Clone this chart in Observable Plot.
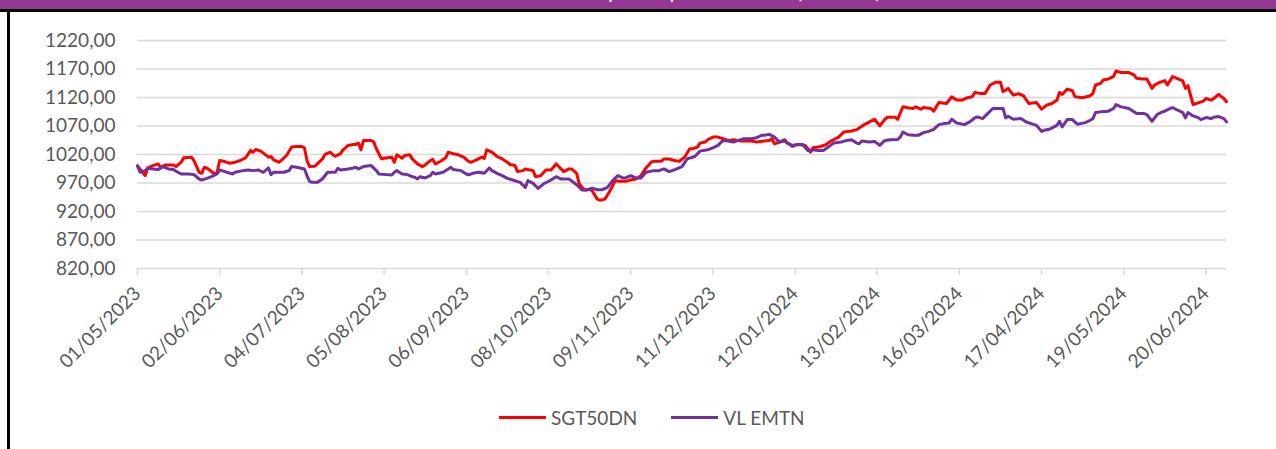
<!DOCTYPE html>
<html>
<head>
<meta charset="utf-8">
<script src="https://cdn.jsdelivr.net/npm/d3@7"></script>
<script src="https://cdn.jsdelivr.net/npm/@observablehq/plot@0.6"></script>
<style>
  html, body { margin: 0; padding: 0; background: #fff; }
  #page { position: relative; width: 1276px; height: 449px; overflow: hidden; background: #fff; font-family: Lato, "Open Sans", sans-serif; }
  #titlebar { position: absolute; left: 0; top: 0; width: 1276px; height: 9px; background: #953795; overflow: hidden; }
  #titlebar span { position: absolute; right: 396px; top: -17px; color: #fff; font: bold 16px Lato, sans-serif; white-space: nowrap; line-height: 20px; }
  #topline { position: absolute; left: 0; top: 9px; width: 1276px; height: 3px; background: #000; }
  #leftline { position: absolute; left: 7px; top: 9px; width: 3px; height: 440px; background: #000; }
  #chart { position: absolute; left: 0; top: 0; }
  #legend { position: absolute; left: 499px; top: 405px; height: 24px; display: flex; align-items: center; font-size: 19px; color: #595959; font-family: Lato, sans-serif; }
  .sw { display: inline-block; width: 47px; height: 3px; margin-right: 5px; }
  .item { display: flex; align-items: center; margin-right: 34px; }
</style>
</head>
<body>
<div id="page">
  <div id="chart"></div>
  <div id="titlebar"><span>Evolution comparée depuis le lancement (base 1000)</span></div>
  <div id="topline"></div>
  <div id="leftline"></div>
  <div id="legend"></div>
</div>
<script>
const seriesNames = ["SGT50DN", "VL EMTN"];
const seriesColors = ["#FF0000", "#7030A0"];

const sgtDates = ["2023-05-01","2023-05-03","2023-05-04","2023-05-05","2023-05-07","2023-05-09","2023-05-10","2023-05-12","2023-05-15","2023-05-16","2023-05-18","2023-05-19","2023-05-22","2023-05-23","2023-05-25","2023-05-26","2023-05-27","2023-05-28","2023-05-29","2023-05-31","2023-06-01","2023-06-02","2023-06-04","2023-06-06","2023-06-08","2023-06-10","2023-06-12","2023-06-13","2023-06-14","2023-06-15","2023-06-16","2023-06-18","2023-06-19","2023-06-21","2023-06-22","2023-06-23","2023-06-25","2023-06-26","2023-06-28","2023-06-30","2023-07-02","2023-07-04","2023-07-05","2023-07-06","2023-07-07","2023-07-09","2023-07-10","2023-07-12","2023-07-13","2023-07-15","2023-07-16","2023-07-17","2023-07-19","2023-07-20","2023-07-22","2023-07-24","2023-07-25","2023-07-26","2023-07-27","2023-07-28","2023-07-31","2023-08-01","2023-08-02","2023-08-04","2023-08-05","2023-08-08","2023-08-09","2023-08-10","2023-08-12","2023-08-13","2023-08-15","2023-08-16","2023-08-18","2023-08-20","2023-08-21","2023-08-23","2023-08-24","2023-08-25","2023-08-27","2023-08-29","2023-08-30","2023-09-01","2023-09-03","2023-09-05","2023-09-07","2023-09-08","2023-09-10","2023-09-12","2023-09-13","2023-09-14","2023-09-16","2023-09-18","2023-09-20","2023-09-22","2023-09-23","2023-09-25","2023-09-26","2023-09-28","2023-09-29","2023-10-02","2023-10-03","2023-10-05","2023-10-07","2023-10-09","2023-10-11","2023-10-12","2023-10-14","2023-10-16","2023-10-17","2023-10-19","2023-10-20","2023-10-22","2023-10-24","2023-10-25","2023-10-27","2023-10-28","2023-10-30","2023-11-01","2023-11-03","2023-11-05","2023-11-07","2023-11-09","2023-11-11","2023-11-13","2023-11-15","2023-11-17","2023-11-18","2023-11-21","2023-11-22","2023-11-24","2023-11-26","2023-11-28","2023-11-30","2023-12-02","2023-12-03","2023-12-05","2023-12-06","2023-12-08","2023-12-09","2023-12-11","2023-12-13","2023-12-15","2023-12-17","2023-12-19","2023-12-22","2023-12-26","2023-12-28","2023-12-31","2024-01-02","2024-01-03","2024-01-04","2024-01-06","2024-01-08","2024-01-09","2024-01-11","2024-01-13","2024-01-16","2024-01-18","2024-01-19","2024-01-21","2024-01-24","2024-01-26","2024-01-27","2024-01-29","2024-01-31","2024-02-03","2024-02-05","2024-02-07","2024-02-08","2024-02-10","2024-02-12","2024-02-14","2024-02-16","2024-02-17","2024-02-20","2024-02-21","2024-02-23","2024-02-25","2024-02-27","2024-02-28","2024-03-01","2024-03-02","2024-03-05","2024-03-06","2024-03-08","2024-03-11","2024-03-13","2024-03-15","2024-03-17","2024-03-19","2024-03-21","2024-03-22","2024-03-24","2024-03-26","2024-03-28","2024-03-30","2024-04-01","2024-04-02","2024-04-04","2024-04-06","2024-04-08","2024-04-10","2024-04-12","2024-04-15","2024-04-17","2024-04-19","2024-04-21","2024-04-23","2024-04-24","2024-04-25","2024-04-27","2024-04-29","2024-04-30","2024-05-03","2024-05-06","2024-05-07","2024-05-08","2024-05-10","2024-05-11","2024-05-13","2024-05-15","2024-05-16","2024-05-18","2024-05-21","2024-05-23","2024-05-24","2024-05-26","2024-05-28","2024-05-30","2024-05-31","2024-06-02","2024-06-04","2024-06-05","2024-06-07","2024-06-08","2024-06-11","2024-06-12","2024-06-13","2024-06-15","2024-06-17","2024-06-19","2024-06-20","2024-06-22","2024-06-23","2024-06-25","2024-06-26","2024-06-27","2024-06-28"];
const sgtValues = [1000.0,988.8,982.9,996.4,1000.6,1003.5,997.6,1001.7,1001.7,998.8,1006.5,1014.1,1015.3,1009.4,988.8,987.0,997.6,996.4,992.9,985.8,988.8,1009.4,1007.6,1004.7,1006.5,1009.4,1014.1,1020.0,1027.1,1024.1,1028.8,1025.9,1022.4,1015.3,1016.5,1010.6,1006.5,1009.4,1018.2,1033.0,1034.1,1034.1,1031.8,1009.4,998.8,999.4,1003.5,1012.3,1020.0,1024.1,1020.0,1017.1,1021.2,1028.2,1035.9,1037.7,1037.7,1040.0,1028.2,1044.7,1044.7,1041.8,1030.0,1012.3,1013.5,1015.3,1006.5,1019.4,1013.5,1018.2,1019.4,1012.3,1003.5,998.8,1001.7,1009.4,1011.2,1003.5,1008.2,1014.1,1024.1,1021.2,1019.4,1015.3,1007.6,1006.5,1010.6,1015.3,1012.9,1028.2,1024.1,1016.5,1012.3,1006.5,1002.3,1000.6,990.0,991.7,994.7,991.7,981.1,982.9,992.9,992.9,1003.5,998.8,990.0,994.7,994.7,987.0,968.2,957.6,959.3,956.4,941.7,939.9,941.7,956.4,974.1,972.9,972.9,975.2,977.0,982.9,996.4,1006.5,1008.2,1008.2,1012.3,1012.3,1009.4,1008.2,1015.3,1030.0,1030.0,1033.0,1040.0,1041.8,1045.9,1050.6,1050.6,1047.7,1044.7,1045.9,1043.6,1043.6,1041.8,1043.6,1044.7,1047.7,1038.8,1041.8,1045.9,1040.0,1035.9,1037.7,1035.9,1024.1,1031.8,1033.0,1037.1,1043.6,1045.9,1050.6,1059.5,1061.2,1063.6,1069.5,1072.4,1077.1,1081.8,1070.1,1081.8,1085.4,1085.4,1081.8,1103.6,1101.9,1100.7,1103.6,1099.5,1102.4,1100.7,1096.0,1111.3,1109.5,1121.3,1115.4,1115.4,1119.5,1121.3,1128.9,1127.2,1127.2,1141.9,1146.6,1146.6,1130.1,1136.0,1124.2,1126.6,1123.1,1109.5,1111.3,1099.5,1106.6,1109.5,1115.4,1128.9,1125.4,1134.8,1131.9,1121.3,1119.5,1123.1,1127.2,1141.9,1144.8,1150.7,1152.5,1156.6,1166.6,1163.7,1163.7,1159.6,1153.7,1152.5,1152.5,1136.0,1141.9,1146.6,1149.6,1141.9,1156.6,1154.9,1149.0,1136.0,1140.7,1107.7,1110.7,1113.6,1118.3,1115.4,1118.3,1125.4,1121.3,1118.3,1112.5];

const vlDates = ["2023-05-01","2023-05-02","2023-05-04","2023-05-05","2023-05-07","2023-05-09","2023-05-11","2023-05-13","2023-05-15","2023-05-16","2023-05-18","2023-05-21","2023-05-23","2023-05-25","2023-05-26","2023-05-28","2023-05-30","2023-06-01","2023-06-02","2023-06-04","2023-06-07","2023-06-08","2023-06-11","2023-06-13","2023-06-15","2023-06-17","2023-06-19","2023-06-21","2023-06-22","2023-06-23","2023-06-27","2023-06-29","2023-06-30","2023-07-02","2023-07-05","2023-07-06","2023-07-07","2023-07-08","2023-07-10","2023-07-12","2023-07-14","2023-07-17","2023-07-18","2023-07-19","2023-07-22","2023-07-24","2023-07-25","2023-07-26","2023-07-28","2023-07-31","2023-08-02","2023-08-03","2023-08-06","2023-08-08","2023-08-09","2023-08-10","2023-08-12","2023-08-14","2023-08-16","2023-08-17","2023-08-18","2023-08-19","2023-08-21","2023-08-23","2023-08-24","2023-08-25","2023-08-28","2023-08-30","2023-08-31","2023-09-01","2023-09-04","2023-09-06","2023-09-07","2023-09-09","2023-09-11","2023-09-13","2023-09-15","2023-09-16","2023-09-18","2023-09-20","2023-09-22","2023-09-24","2023-09-27","2023-09-29","2023-09-30","2023-10-02","2023-10-04","2023-10-06","2023-10-09","2023-10-11","2023-10-13","2023-10-16","2023-10-19","2023-10-21","2023-10-23","2023-10-25","2023-10-27","2023-10-29","2023-10-31","2023-11-02","2023-11-04","2023-11-06","2023-11-07","2023-11-09","2023-11-11","2023-11-13","2023-11-15","2023-11-18","2023-11-20","2023-11-22","2023-11-24","2023-11-26","2023-11-29","2023-12-01","2023-12-04","2023-12-06","2023-12-09","2023-12-11","2023-12-13","2023-12-15","2023-12-17","2023-12-19","2023-12-21","2023-12-23","2023-12-26","2023-12-28","2023-12-30","2023-12-31","2024-01-02","2024-01-04","2024-01-06","2024-01-08","2024-01-11","2024-01-13","2024-01-15","2024-01-17","2024-01-19","2024-01-21","2024-01-23","2024-01-25","2024-01-27","2024-01-30","2024-02-01","2024-02-03","2024-02-05","2024-02-06","2024-02-07","2024-02-10","2024-02-12","2024-02-14","2024-02-16","2024-02-18","2024-02-21","2024-02-22","2024-02-23","2024-02-25","2024-02-27","2024-02-29","2024-03-02","2024-03-04","2024-03-06","2024-03-08","2024-03-10","2024-03-12","2024-03-13","2024-03-15","2024-03-18","2024-03-20","2024-03-22","2024-03-23","2024-03-25","2024-03-27","2024-03-29","2024-03-31","2024-04-02","2024-04-03","2024-04-04","2024-04-06","2024-04-09","2024-04-11","2024-04-13","2024-04-15","2024-04-17","2024-04-18","2024-04-20","2024-04-23","2024-04-24","2024-04-25","2024-04-27","2024-04-29","2024-05-01","2024-05-04","2024-05-06","2024-05-07","2024-05-08","2024-05-10","2024-05-13","2024-05-15","2024-05-16","2024-05-18","2024-05-21","2024-05-24","2024-05-27","2024-05-28","2024-05-30","2024-06-01","2024-06-03","2024-06-04","2024-06-06","2024-06-07","2024-06-09","2024-06-11","2024-06-12","2024-06-13","2024-06-15","2024-06-17","2024-06-18","2024-06-20","2024-06-22","2024-06-23","2024-06-25","2024-06-27","2024-06-28"];
const vlValues = [1000.0,988.8,991.7,995.9,994.7,993.5,998.8,994.7,993.5,990.6,985.8,985.8,984.7,977.0,975.2,978.2,981.7,985.8,992.9,990.0,985.8,988.8,991.7,992.9,991.7,992.9,988.8,996.4,984.7,988.8,988.8,991.7,998.8,997.6,994.7,982.9,972.9,971.1,971.1,977.0,988.8,988.8,995.9,992.9,994.7,996.4,997.6,994.7,998.8,1000.6,991.7,985.8,984.7,984.1,988.8,991.7,985.8,984.7,981.1,980.0,977.0,981.1,978.8,982.9,988.8,985.8,988.8,994.7,997.6,993.5,991.7,985.8,984.1,987.6,988.8,987.0,996.4,991.7,987.0,982.9,978.2,975.2,971.1,962.3,974.1,969.4,960.5,968.2,975.2,981.1,977.0,977.0,967.0,957.6,957.6,961.1,958.2,958.2,962.3,974.1,982.9,978.8,978.8,982.9,978.8,978.8,988.8,991.7,991.7,994.7,990.0,992.9,998.8,1012.3,1016.5,1025.9,1028.2,1031.8,1035.9,1044.7,1043.6,1041.8,1044.7,1047.7,1047.7,1049.4,1053.6,1053.6,1055.3,1050.6,1041.8,1043.6,1034.1,1037.7,1037.7,1027.1,1028.2,1027.1,1027.1,1033.0,1040.0,1041.8,1044.7,1045.9,1040.0,1038.8,1043.6,1041.8,1043.0,1035.9,1044.7,1045.9,1046.5,1050.6,1059.5,1054.7,1053.6,1053.6,1058.3,1060.6,1064.2,1072.4,1074.2,1075.4,1081.8,1075.4,1072.4,1077.1,1084.2,1086.0,1083.0,1091.8,1100.7,1100.7,1100.7,1084.2,1087.1,1081.8,1083.0,1077.1,1074.2,1071.2,1060.6,1062.4,1064.2,1071.2,1078.3,1068.3,1081.2,1081.2,1073.0,1075.9,1080.1,1083.0,1093.6,1094.8,1096.0,1100.7,1107.7,1103.6,1100.7,1091.8,1091.8,1090.1,1078.3,1090.1,1094.8,1096.0,1100.7,1102.4,1097.7,1093.6,1084.2,1093.6,1087.7,1084.8,1081.2,1084.8,1083.0,1085.4,1086.5,1083.0,1077.1];

const xTickDates = ["2023-05-01","2023-06-02","2023-07-04","2023-08-05","2023-09-06","2023-10-08","2023-11-09","2023-12-11","2024-01-12","2024-02-13","2024-03-16","2024-04-17","2024-05-19","2024-06-20"];
const yTickValues = [820, 870, 920, 970, 1020, 1070, 1120, 1170, 1220];
const xDomain = ["2023-05-01", "2024-06-28"];

const parse = d3.utcParse("%Y-%m-%d");
const sgt = sgtDates.map((d, i) => ({date: parse(d), value: sgtValues[i], series: seriesNames[0]}));
const vl = vlDates.map((d, i) => ({date: parse(d), value: vlValues[i], series: seriesNames[1]}));

const fmtY = d => d3.format(".2f")(d).replace(".", ",");
const fmtX = d3.utcFormat("%d/%m/%Y");

const chart = Plot.plot({
  width: 1276,
  height: 390,
  marginLeft: 137,
  marginRight: 50,
  marginTop: 40,
  marginBottom: 122,
  style: {fontFamily: "Lato, sans-serif", fontSize: "19px", color: "#595959", background: "transparent"},
  x: {type: "utc", domain: xDomain.map(parse)},
  y: {domain: [820, 1220]},
  marks: [
    Plot.gridY(yTickValues, {stroke: "#d9d9d9", strokeOpacity: 1, strokeWidth: 1.5}),
    Plot.axisY({ticks: yTickValues, tickFormat: fmtY, tickSize: 0, tickPadding: 22, fontSize: 19, fill: "#595959", label: null}),
    Plot.axisX({ticks: xTickDates.map(parse), tickFormat: fmtX, tickRotate: -45, tickSize: 7, tickPadding: 15, stroke: "#d9d9d9", strokeWidth: 1.5, fill: "#595959", fontSize: 19, label: null}),
    Plot.line(sgt, {x: "date", y: "value", stroke: seriesColors[0], strokeWidth: 3, strokeLinejoin: "round"}),
    Plot.line(vl, {x: "date", y: "value", stroke: seriesColors[1], strokeWidth: 3, strokeLinejoin: "round"})
  ]
});
document.getElementById("chart").appendChild(chart);

const legend = document.getElementById("legend");
seriesNames.forEach((name, i) => {
  const item = document.createElement("div");
  item.className = "item";
  const sw = document.createElement("span");
  sw.className = "sw";
  sw.style.background = seriesColors[i];
  const label = document.createElement("span");
  label.textContent = name;
  item.appendChild(sw);
  item.appendChild(label);
  legend.appendChild(item);
});
</script>
</body>
</html>
